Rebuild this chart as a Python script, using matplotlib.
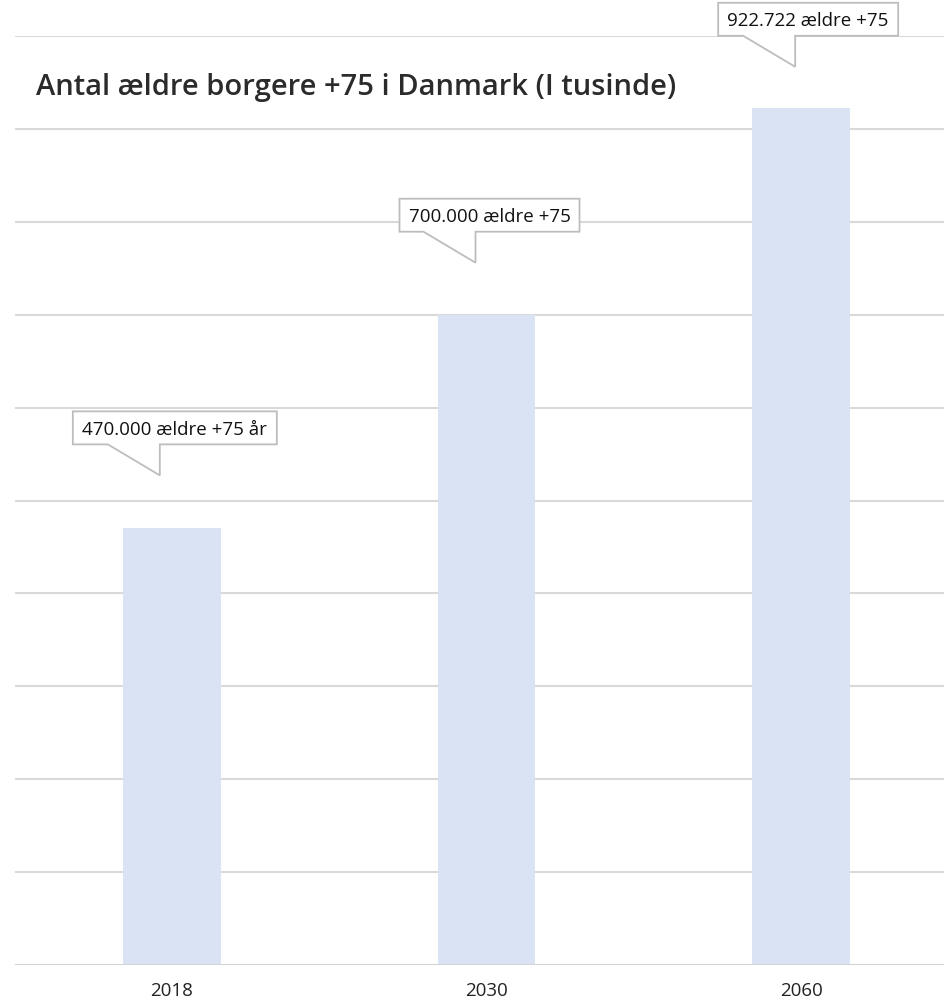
import numpy as np
import matplotlib.pyplot as plt
from matplotlib.patches import Polygon

# data (in thousands)
years = ['2018', '2030', '2060']
values = [470, 700, 922.722]
labels = ['470.000 ældre +75 år', '700.000 ældre +75', '922.722 ældre +75']
title = 'Antal ældre borgere +75 i Danmark (I tusinde)'

bar_color = '#dae3f3'
grid_color = '#d9d9d9'

fig = plt.figure(figsize=(9.44, 10.01), dpi=100)
ax = fig.add_axes([14.5 / 944, 36 / 1001, 944 / 944, 929 / 1001])

x = np.arange(len(years))
ax.bar(x, values, width=0.31, color=bar_color, zorder=2)

ax.set_xlim(-0.5, 2.5)
ax.set_ylim(0, 1000)
ax.set_yticks(np.arange(0, 1001, 100))
ax.yaxis.grid(True, color=grid_color, linewidth=1.5, zorder=0)
ax.tick_params(axis='y', left=False, labelleft=False)
ax.tick_params(axis='x', length=0, pad=12, labelsize=13.5, labelcolor='#222222')
ax.set_xticks(x)
ax.set_xticklabels(years, fontfamily='Open Sans')
for s in ax.spines.values():
    s.set_visible(False)
ax.axhline(0, color='#d0d0d0', linewidth=1.8, zorder=3)

fig.text(36 / 944, 1 - 87 / 1001, title, fontsize=21, fontweight='semibold',
         fontfamily='Open Sans', color='#2b2b2b', va='center', ha='left')

# callouts (pixel offsets): tip offset from bar top, box left relative to tip, box width
tip_dx = [-12, -11, -6]
tip_dy = [53, 52, 41]
box_l = [-87, -76, -77]
box_w = [204, 180, 180]
bh, h = 31, 33
inv = fig.transFigure.inverted()
for i, (v, lab) in enumerate(zip(values, labels)):
    base = ax.transData.transform((x[i], v)) + np.array([tip_dx[i], tip_dy[i]])
    bl, w = box_l[i], box_w[i]
    px_pts = [(bl, bh), (-52, bh), (0, 0), (0, bh), (bl + w, bh), (bl + w, bh + h), (bl, bh + h)]
    verts = [inv.transform(base + np.array(p)) for p in px_pts]
    poly = Polygon(verts, closed=True, transform=fig.transFigure, facecolor='white',
                   edgecolor='#bdbdbd', linewidth=1.3, zorder=5)
    fig.add_artist(poly)
    cf = inv.transform(base + np.array([bl + w / 2, bh + h / 2]))
    fig.text(cf[0], cf[1], lab, fontsize=13.5, fontfamily='Open Sans', color='#111111',
             ha='center', va='center_baseline', zorder=6)

fig.savefig('out.png', dpi=100)
